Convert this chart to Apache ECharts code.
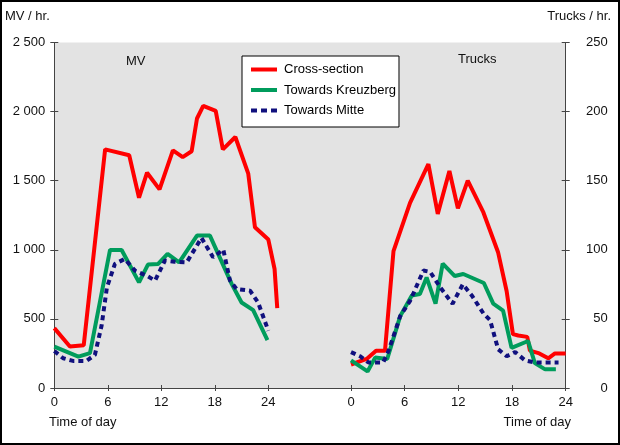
<!DOCTYPE html>
<html>
<head>
<meta charset="utf-8">
<script src="https://cdn.jsdelivr.net/npm/echarts@6/dist/echarts.min.js"></script>
<style>
html,body{margin:0;padding:0;background:#fff;}
#chart{width:620px;height:445px;}
</style>
</head>
<body>
<div id="chart"></div>
<script>
// ---- data ----
const seriesNames = ['Cross-section', 'Towards Kreuzberg', 'Towards Mitte'];
const hourTicks = [0, 6, 12, 18, 24];
const mvTicks = [0, 500, 1000, 1500, 2000, 2500];
const truckTicks = [0, 50, 100, 150, 200, 250];

// [hour, MV per hour]
const mvCross = [[0,433],[1.75,300],[3.3,310],[5.7,1727],[8.4,1684],[9.5,1377],[10.4,1558],[11.8,1437],[13.3,1720],[14.4,1671],[15.4,1713],[16,1950],[16.7,2041],[18.1,2005],[18.9,1727],[20.3,1816],[21.75,1551],[22.5,1163],[24,1074],[24.7,861],[25,578]];
const mvKreuzberg = [[0,300],[2.7,227],[4,252],[6.25,999],[7.55,999],[9.5,764],[10.5,893],[11.65,898],[12.7,970],[14,909],[16,1103],[17.45,1103],[19.9,752],[21,619],[22.3,564],[23.9,346]];
const mvMitte = [[0,268],[1,215],[2.1,196],[3.6,196],[4.55,239],[5.3,450],[5.9,728],[6.8,898],[7.9,934],[9.05,849],[10.35,813],[11.3,777],[12.4,922],[13.5,914],[14.85,909],[16.5,1086],[17.8,946],[18.95,1001],[19.7,777],[20.45,716],[21.95,704],[22.85,619],[24,414]];

// [hour, trucks per hour]
const trCross = [[0,17],[1.75,21],[2.8,27],[3.8,27],[4.75,99],[6.6,134],[8.65,162],[9.7,126],[11,157],[11.95,130],[13.05,150],[14.8,127],[16.45,98],[17.4,70],[18.1,39],[18.7,38],[19.7,37],[20,27],[21.05,25],[22.05,21.5],[22.8,25],[24,25]];
const trKreuzberg = [[0,20],[1.85,12],[2.7,22],[4.05,21],[5.5,52],[6.8,67],[7.7,68],[8.45,80],[9.45,61],[10.25,90],[11.6,81],[12.55,82.5],[14.85,76],[15.9,61],[17,56],[17.95,29],[19.8,34],[20.55,18],[21.7,13.5],[22.9,13.5]];
const trMitte = [[0,26],[1,23],[1.95,18.5],[3.6,18.5],[4.2,27],[5.5,52],[6.6,63],[8.1,85],[8.85,84],[9.95,73],[11.35,61],[12.5,75],[13.5,67],[14.8,54],[15.55,49],[16.45,28],[17.4,23],[18.35,26],[19.45,20],[20.55,18.5],[21.9,18.5],[23.2,18.5]];

// ---- styles ----
const FONT = '"Liberation Sans", Arial, sans-serif';
const AX = '#444';
const TXT = '#111';
const colors = ['#ff0000', '#009c5c', '#10107e'];
const lineStyles = [
  {color: colors[0], width: 4},
  {color: colors[1], width: 4},
  {color: colors[2], width: 4, type: [5, 4], cap: 'butt'}
];
const legendIcons = [
  'path://M0,0H26V4H0Z',
  'path://M0,0H26V4H0Z',
  'path://M0,0H6V4H0Z M10,0H16V4H10Z M20,0H26V4H20Z'
];
const fmt = v => String(v).replace(/\B(?=(\d{3})+(?!\d))/g, ' ');

const G = {top: 42.5, height: 345.5};
const grids = [
  {left: 54.3, top: G.top, width: 296.7, height: G.height, show: true, backgroundColor: '#e3e3e3', borderWidth: 0},
  {left: 351, top: G.top, width: 214.7, height: G.height, show: true, backgroundColor: '#e3e3e3', borderWidth: 0}
];

function xAx(gi, max, inside) {
  return {
    gridIndex: gi, type: 'value', min: 0, max: max, position: 'bottom',
    axisLine: {show: !inside, onZero: false, lineStyle: {color: AX, width: 1}},
    axisTick: {show: true, inside: inside, length: 3, customValues: hourTicks, lineStyle: {color: AX}},
    axisLabel: {show: !inside, customValues: hourTicks, margin: 8, fontSize: 13, color: TXT, fontFamily: FONT},
    splitLine: {show: false}
  };
}
function yAx(gi, pos, max, interval, inside, labelOpts) {
  return {
    gridIndex: gi, type: 'value', position: pos, min: 0, max: max, interval: interval,
    axisLine: {show: !inside, onZero: false, lineStyle: {color: AX, width: 1}},
    axisTick: {show: true, inside: inside, length: 4, lineStyle: {color: AX}},
    axisLabel: Object.assign({show: !inside, fontSize: 13, color: TXT, fontFamily: FONT, formatter: fmt, padding: [0, 0, 9, 0]}, labelOpts || {}),
    splitLine: {show: false}
  };
}

const mvSets = [mvCross, mvKreuzberg, mvMitte];
const trSets = [trCross, trKreuzberg, trMitte];
const series = [];
mvSets.forEach((d, i) => series.push({
  name: seriesNames[i], type: 'line', xAxisIndex: 0, yAxisIndex: 0, data: d,
  symbol: 'none', lineStyle: lineStyles[i], itemStyle: {color: colors[i]}, z: 3 + i, clip: false
}));
trSets.forEach((d, i) => series.push({
  name: seriesNames[i], type: 'line', xAxisIndex: 1, yAxisIndex: 1, data: d,
  symbol: 'none', lineStyle: lineStyles[i], itemStyle: {color: colors[i]}, z: 3 + i, clip: false
}));

const chart = echarts.init(document.getElementById('chart'), null, {renderer: 'canvas'});
chart.setOption({
  animation: false,
  backgroundColor: '#fff',
  textStyle: {fontFamily: FONT},
  grid: grids,
  xAxis: [xAx(0, 33.27, false), xAx(1, 24, false), xAx(0, 33.27, true), xAx(1, 24, true)],
  yAxis: [
    yAx(0, 'left', mvTicks[mvTicks.length - 1], mvTicks[1], false, {margin: 9}),
    yAx(1, 'right', truckTicks[truckTicks.length - 1], truckTicks[1], false, {margin: 42, align: 'right'}),
    yAx(0, 'left', mvTicks[mvTicks.length - 1], mvTicks[1], true),
    yAx(1, 'right', truckTicks[truckTicks.length - 1], truckTicks[1], true)
  ],
  legend: {
    data: seriesNames.map((n, i) => ({name: n, icon: legendIcons[i], itemStyle: {color: colors[i]}})),
    left: 242, top: 56, orient: 'vertical',
    backgroundColor: '#fff', borderColor: '#000', borderWidth: 1,
    padding: [7, 3, 10, 9], itemWidth: 26, itemHeight: 4, itemGap: 7.5,
    textStyle: {fontSize: 13, color: '#000', fontFamily: FONT, padding: [0, 0, 0, 2]}
  },
  graphic: [
    {type: 'rect', shape: {x: 1, y: 1, width: 618, height: 443}, style: {fill: 'none', stroke: '#000', lineWidth: 2}, z: 100},
    {type: 'text', left: 5, top: 10, style: {text: 'MV / hr.', font: '13px ' + FONT, fill: TXT}},
    {type: 'text', right: 9, top: 10, style: {text: 'Trucks / hr.', font: '13px ' + FONT, fill: TXT}},
    {type: 'text', left: 126, top: 55, style: {text: 'MV', font: '13px ' + FONT, fill: TXT}, z: 10},
    {type: 'text', left: 458, top: 53, style: {text: 'Trucks', font: '13px ' + FONT, fill: TXT}, z: 10},
    {type: 'text', left: 49, top: 416, style: {text: 'Time of day', font: '13px ' + FONT, fill: TXT}},
    {type: 'text', right: 49, top: 416, style: {text: 'Time of day', font: '13px ' + FONT, fill: TXT}}
  ],
  series: series
});
</script>
</body>
</html>
